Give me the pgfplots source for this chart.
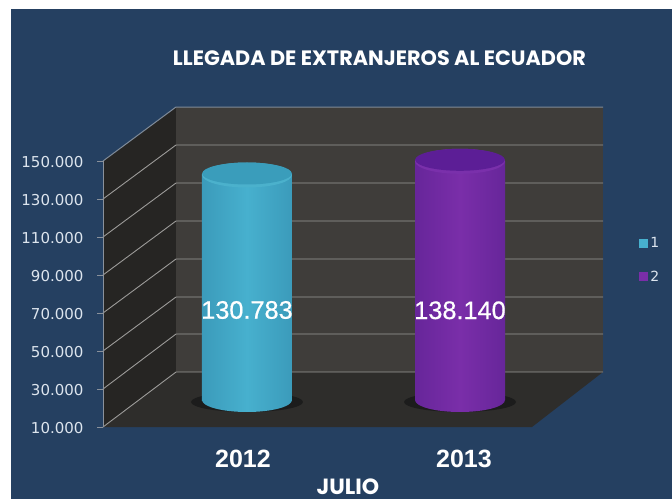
\documentclass[border=0pt]{standalone}
\usepackage{fontspec}
\setmainfont{Liberation Sans}
\newfontfamily\tickf{DejaVu Sans}
\newfontfamily\titlef{Poppins}
\newfontfamily\labf[FakeBold=0.6]{Liberation Sans}
\usepackage{pgfplots}
\pgfplotsset{compat=1.18}
\definecolor{navy}{HTML}{254061}
\definecolor{sidewall}{HTML}{262523}
\definecolor{backwall}{HTML}{3F3D3A}
\definecolor{floorc}{HTML}{2E2D2B}
\definecolor{gridc}{HTML}{9C9B99}
\definecolor{topline}{HTML}{7F8B99}
\definecolor{axisc}{HTML}{8A919B}
\definecolor{tickc}{HTML}{DDE5EE}
\definecolor{aEdge}{HTML}{2A7C9E}
\definecolor{aMid}{HTML}{47B0CE}
\definecolor{aTop}{HTML}{3A9DBB}
\definecolor{aRim}{HTML}{4BB1CC}
\definecolor{bEdge}{HTML}{4A1A84}
\definecolor{bMid}{HTML}{7A2EA9}
\definecolor{bTop}{HTML}{5C1E96}
\definecolor{bRim}{HTML}{7A30AB}
\definecolor{shadowc}{HTML}{1C1C1C}
\pgfdeclarehorizontalshading{cylA}{100bp}{color(0bp)=(aEdge); color(22bp)=(aEdge!45!aMid); color(50bp)=(aMid); color(78bp)=(aEdge!45!aMid); color(100bp)=(aEdge)}
\pgfdeclarehorizontalshading{cylB}{100bp}{color(0bp)=(bEdge); color(22bp)=(bEdge!45!bMid); color(50bp)=(bMid); color(78bp)=(bEdge!45!bMid); color(100bp)=(bEdge)}
\pgfdeclareplotmark{shadowell}{%
  \pgfsetfillcolor{shadowc}%
  \pgfpathellipse{\pgfqpoint{0pt}{-2pt}}{\pgfqpoint{56pt}{0pt}}{\pgfqpoint{0pt}{10pt}}\pgfusepathqfill}
\pgfdeclareplotmark{botA}{%
  \pgfpathellipse{\pgfpointorigin}{\pgfqpoint{45pt}{0pt}}{\pgfqpoint{0pt}{12pt}}\pgfshadepath{cylA}{0}\pgfusepath{discard}}
\pgfdeclareplotmark{botB}{%
  \pgfpathellipse{\pgfpointorigin}{\pgfqpoint{45pt}{0pt}}{\pgfqpoint{0pt}{12pt}}\pgfshadepath{cylB}{0}\pgfusepath{discard}}
% shaded cylinder body hanging from the data point, on top of the bar
\pgfdeclareplotmark{topA}{%
  \pgfpathrectangle{\pgfqpoint{-45pt}{-225pt}}{\pgfqpoint{90pt}{225pt}}\pgfshadepath{cylA}{0}\pgfusepath{discard}%
  \pgfsetfillcolor{aRim}%
  \pgfpathellipse{\pgfpointorigin}{\pgfqpoint{45pt}{0pt}}{\pgfqpoint{0pt}{12.5pt}}\pgfusepathqfill
  \pgfsetfillcolor{aTop}%
  \pgfpathellipse{\pgfqpoint{0pt}{1.5pt}}{\pgfqpoint{44.8pt}{0pt}}{\pgfqpoint{0pt}{11pt}}\pgfusepathqfill}
\pgfdeclareplotmark{topB}{%
  \pgfpathrectangle{\pgfqpoint{-45pt}{-238.7pt}}{\pgfqpoint{90pt}{238.7pt}}\pgfshadepath{cylB}{0}\pgfusepath{discard}%
  \pgfsetfillcolor{bRim}%
  \pgfpathellipse{\pgfpointorigin}{\pgfqpoint{45pt}{0pt}}{\pgfqpoint{0pt}{12.5pt}}\pgfusepathqfill
  \pgfsetfillcolor{bTop}%
  \pgfpathellipse{\pgfqpoint{0pt}{1.5pt}}{\pgfqpoint{44.8pt}{0pt}}{\pgfqpoint{0pt}{11pt}}\pgfusepathqfill}
\begin{document}
\begin{tikzpicture}[x=1pt,y=1pt]
\fill[white] (0,0) rectangle (672,499);
\useasboundingbox (0,0) rectangle (672,499);
\fill[navy] (11,0) rectangle (672,490);
% chart walls, in picture coordinates
\begin{axis}[at={(0pt,0pt)},anchor=south west,scale only axis,width=672pt,height=499pt,
  xmin=0,xmax=672,ymin=0,ymax=499,y dir=reverse,hide axis,clip=false]
\addplot[draw=none,fill=sidewall] coordinates {(103,161)(176,107)(176,372)(103,427)} --cycle;
\addplot[draw=none,fill=backwall] coordinates {(176,107)(603,107)(603,372)(176,372)} --cycle;
\addplot[draw=none,fill=floorc] coordinates {(103,427)(176,372)(603,372)(532,427)} --cycle;
\addplot[topline,line width=1pt] coordinates {(103,161)(176,107)(603,107)};
\addplot[gridc,line width=.9pt] coordinates {(103,199)(176,145)(603,145)};
\addplot[gridc,line width=.9pt] coordinates {(103,237)(176,183)(603,183)};
\addplot[gridc,line width=.9pt] coordinates {(103,275)(176,221)(603,221)};
\addplot[gridc,line width=.9pt] coordinates {(103,313)(176,259)(603,259)};
\addplot[gridc,line width=.9pt] coordinates {(103,351)(176,297)(603,297)};
\addplot[gridc,line width=.9pt] coordinates {(103,389)(176,334)(603,334)};
\addplot[gridc,line width=.9pt] coordinates {(103,427)(176,372)(603,372)};
\end{axis}
% front plane: value axis, categories, titles
\begin{axis}[at={(103pt,72pt)},anchor=south west,scale only axis,width=429pt,height=266pt,
  xmin=-0.6335,xmax=1.3077,ymin=10000,ymax=150000,
  axis y line*=left,axis x line*=bottom,
  x axis line style={draw=none,-},y axis line style={axisc,line width=.8pt,-},
  xtick={0,1},xticklabels={2012,2013},xtick style={draw=none},
  ytick={10000,30000,50000,70000,90000,110000,130000,150000},
  yticklabels={10.000,30.000,50.000,70.000,90.000,110.000,130.000,150.000},
  ytick style={axisc,line width=.8pt},tick align=outside,major tick length=6pt,
  scaled y ticks=false,
  yticklabel style={font=\tickf\fontsize{15}{18}\selectfont,text=tickc,xshift=-10pt,yshift=-1pt},
  xticklabel style={font=\bfseries\fontsize{25}{30}\selectfont,text=white,yshift=-14pt},
  title={LLEGADA DE EXTRANJEROS AL ECUADOR},
  title style={at={(axis description cs:0.6445,1.365)},anchor=center,
    font=\titlef\bfseries\fontsize{20.8}{24}\selectfont,text=white},
  xlabel={JULIO},
  xlabel style={at={(axis description cs:0.571,-0.2256)},anchor=center,inner sep=0pt,
    font=\titlef\bfseries\fontsize{22}{22}\selectfont,text=white},
]
\addplot[draw=none,forget plot] coordinates {(0,10000)(1,10000)};
\end{axis}
% cylinders: base sits at mid depth
\begin{axis}[at={(103pt,99pt)},anchor=south west,scale only axis,width=429pt,height=260.8pt,
  xmin=-0.676,xmax=1.338,ymin=10000,ymax=150000,hide axis,clip=false,
  legend style={at={(1.2496,0.537)},anchor=west,draw=none,fill=none,text=tickc,
    font=\tickf\fontsize{14}{16}\selectfont,row sep=18pt,inner sep=0pt,
    /tikz/every even column/.append style={column sep=9pt}},
  legend image code/.code={\fill[#1] (0pt,-4.5pt) rectangle (9pt,4.5pt);},
]
\addplot[only marks,mark=shadowell,forget plot] coordinates {(0,10000)(1,10000)};
\addplot[only marks,mark=botA,forget plot] coordinates {(0,10000)};
\addplot[only marks,mark=botB,forget plot] coordinates {(1,10000)};
\addplot[ybar,bar width=90pt,bar shift=0pt,draw=none,fill=aMid]
  coordinates {(0,130783)};
\addlegendentry{1}
\addplot[ybar,bar width=90pt,bar shift=0pt,draw=none,fill=bMid]
  coordinates {(1,138140)};
\addlegendentry{2}
\addplot[only marks,mark=topA,forget plot,
  nodes near coords={130.783},
  every node near coord/.append style={anchor=center,yshift=-135pt,text=white,
    font=\labf\fontsize{25.3}{30}\selectfont}] coordinates {(0,130783)};
\addplot[only marks,mark=topB,forget plot,
  nodes near coords={138.140},
  every node near coord/.append style={anchor=center,yshift=-149pt,text=white,
    font=\labf\fontsize{25.3}{30}\selectfont}] coordinates {(1,138140)};
\end{axis}
\end{tikzpicture}
\end{document}
